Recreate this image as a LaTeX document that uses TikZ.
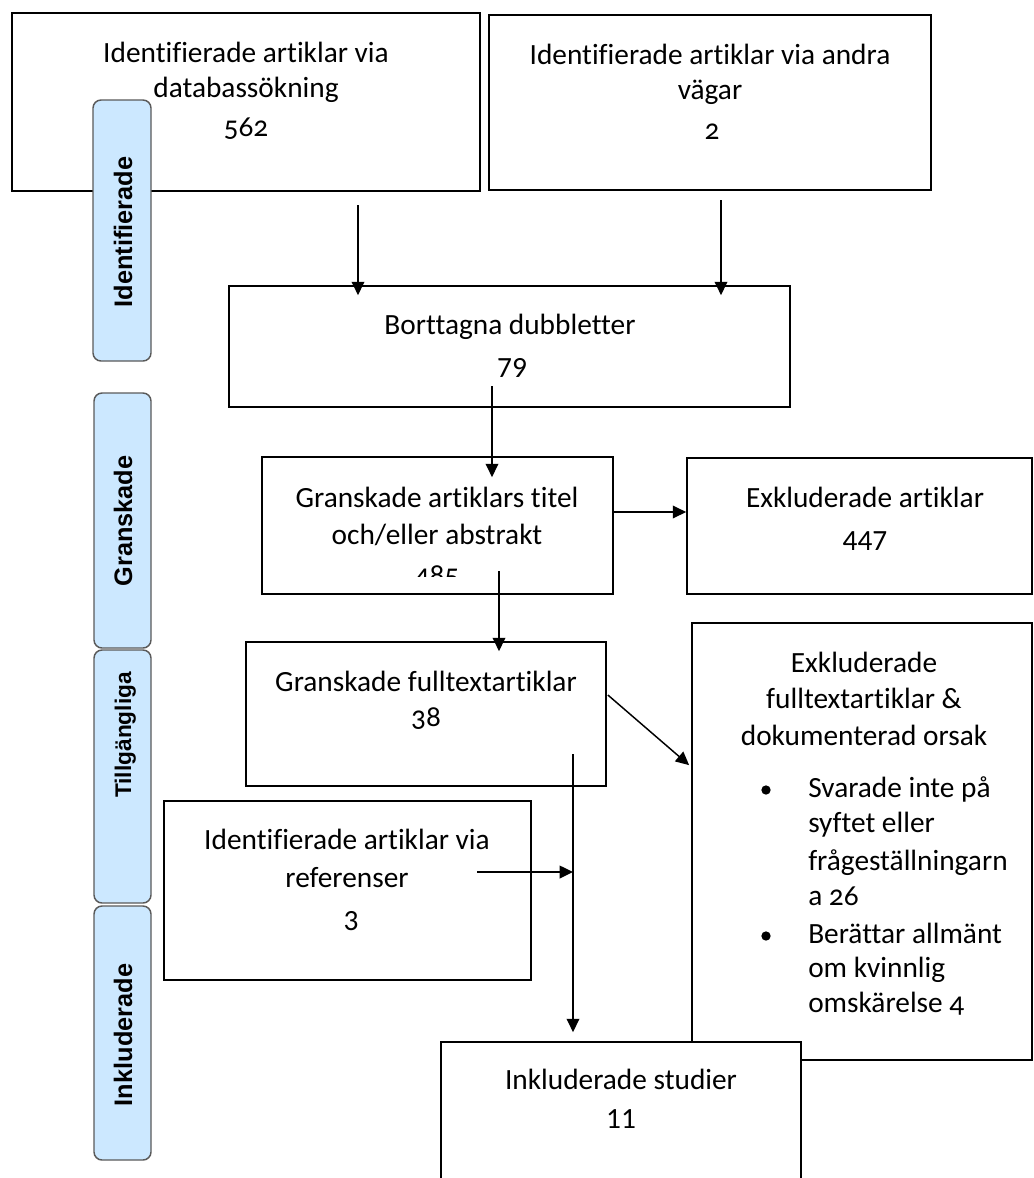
\documentclass[tikz,border=0pt]{standalone}
\usepackage{fontspec}
\setmainfont{Carlito}[Ligatures={NoCommon,NoContextual}]
\newfontfamily\oldnum{Carlito}[Numbers=OldStyle,Ligatures={NoCommon,NoContextual}]
\newfontfamily\labelfont{Liberation Sans}
\usetikzlibrary{arrows.meta,fit,calc}
\definecolor{sidefill}{RGB}{204,232,255}
\definecolor{sideline}{RGB}{90,90,90}
\begin{document}
\begin{tikzpicture}[x=0.75pt,y=-0.75pt,
  box/.style={draw=black,line width=1.3pt,fill=white,inner sep=0pt},
  txt/.style={anchor=base,inner sep=0pt,font=\fontsize{22}{26}\selectfont},
  lead/.style={anchor=base west,inner sep=0pt,font=\fontsize{22}{26}\selectfont},
  arr/.style={line width=1.1pt,-{Triangle[length=10pt,width=9.5pt]}},
  side/.style={draw=sideline,line width=1.1pt,fill=sidefill,rounded corners=6pt,inner sep=0pt},
  sidetxt/.style={rotate=90,anchor=base,inner sep=0pt,font=\labelfont\bfseries\fontsize{19}{22}\selectfont},
  dot/.style={circle,fill=black,inner sep=0pt,minimum size=7pt}]
\useasboundingbox (0,0) rectangle (1034,1178);

% boxes
\node[box,fit={(12,13) (480,191)}] (A) {};
\node[box,fit={(489,15) (931,190)}] (B) {};
\node[box,fit={(229,286) (790,407)}] (C) {};
\node[box,fit={(262,457) (613,594)}] (D) {};
\node[box,fit={(687,458) (1032,594)}] (F) {};
\node[box,fit={(246,642) (606,786)}] (E) {};
\node[box,fit={(164,801) (531,980)}] (G) {};
\node[box,fit={(692,623) (1032,1060)}] (I) {};
\node[box,fit={(441,1042) (801,1200)}] (H) {};

% texts
\node[txt] (a1) at (246,62) {Identifierade artiklar via};
\node[txt] (a2) at (246,97) {databassökning};
\node[txt] (a3) at (246,136) {\oldnum 562};
\node[txt] (b1) at (710,64) {Identifierade artiklar via andra};
\node[txt] (b2) at (710,99) {vägar};
\node[txt] (b3) at (712,139) {\oldnum 2};
\node[txt] (c1) at (510,334) {Borttagna dubbletter};
\node[txt] (c2) at (512,377) {79};
\node[txt] (d1) at (437,507) {Granskade artiklars titel};
\node[txt] (d2) at (437,544) {och/eller abstrakt};
\begin{scope}
  \clip (262,457) rectangle (613,576);
  \node[txt] (d3) at (437,584) {\oldnum 485};
\end{scope}
\node[txt] (f1) at (865,507) {Exkluderade artiklar};
\node[txt] (f2) at (865,550) {447};
\node[txt] (e1) at (426,691) {Granskade fulltextartiklar};
\node[txt] (e2) at (426,726) {\oldnum 38};
\node[txt] (g1) at (347,849) {Identifierade artiklar via};
\node[txt] (g2) at (347,887) {referenser};
\node[txt] (g3) at (351,930) {3};
\node[txt] (h1) at (621,1089) {Inkluderade studier};
\node[txt] (h2) at (621,1128) {11};
\node[txt] (i1) at (864,672) {Exkluderade};
\node[txt] (i2) at (864,708) {fulltextartiklar \&};
\node[txt] (i3) at (864,745) {dokumenterad orsak};
\node[dot] (bul1) at (766,790) {};
\node[lead] (j1) at (808,797) {Svarade inte på};
\node[lead] (j2) at (808,832) {syftet eller};
\node[lead] (j3) at (808,870) {frågeställningarn};
\node[lead] (j4) at (808,905) {a {\oldnum 26}};
\node[dot] (bul2) at (766,936) {};
\node[lead] (k1) at (808,943) {Berättar allmänt};
\node[lead] (k2) at (808,977) {om kvinnlig};
\node[lead] (k3) at (808,1012) {omskärelse {\oldnum 4}};

% connectors
\coordinate (sA) at (358,205);
\draw[arr] (sA) -- ($(sA |- C.north)+(0,10)$);
\coordinate (sB) at (721,200);
\draw[arr] (sB) -- ($(sB |- C.north)+(0,10)$);
\coordinate (sC) at (492,386);
\draw[arr] (sC) -- ($(sC |- D.north)+(0,21)$);
\coordinate (dF) at ($(D.east)+(0,-13.5)$);
\draw[arr] (dF) -- (dF -| F.west);
\coordinate (sD) at (499,571);
\draw[arr] (sD) -- ($(sD |- E.north)+(0,10)$);
\coordinate (sE) at ($(E.east)+(1,-19)$);
\draw[arr] (sE) -- ($(I.north west)+(-2,143)$);
\coordinate (sE2) at (573,754);
\draw[arr] (sE2) -- ($(sE2 |- H.north)+(0,-9)$);
\coordinate (sG) at (477,872);
\draw[arr] (sG) -- (sG -| sE2);

% side labels
\node[side,fit={(93,100) (151,361)}] (L1) {};
\node[sidetxt] (L1t) at (132,232) {Identifierade};
\node[side,fit={(94,393) (151,648)}] (L2) {};
\node[sidetxt] (L2t) at (132,521) {Granskade};
\node[side,fit={(94,650) (151,903)}] (L3) {};
\node[sidetxt,font=\labelfont\bfseries\fontsize{17}{20}\selectfont] (L3t) at (131,735) {Tillgängliga};
\node[side,fit={(94,906) (151,1160)}] (L4) {};
\node[sidetxt] (L4t) at (132,1035) {Inkluderade};
\end{tikzpicture}
\end{document}
